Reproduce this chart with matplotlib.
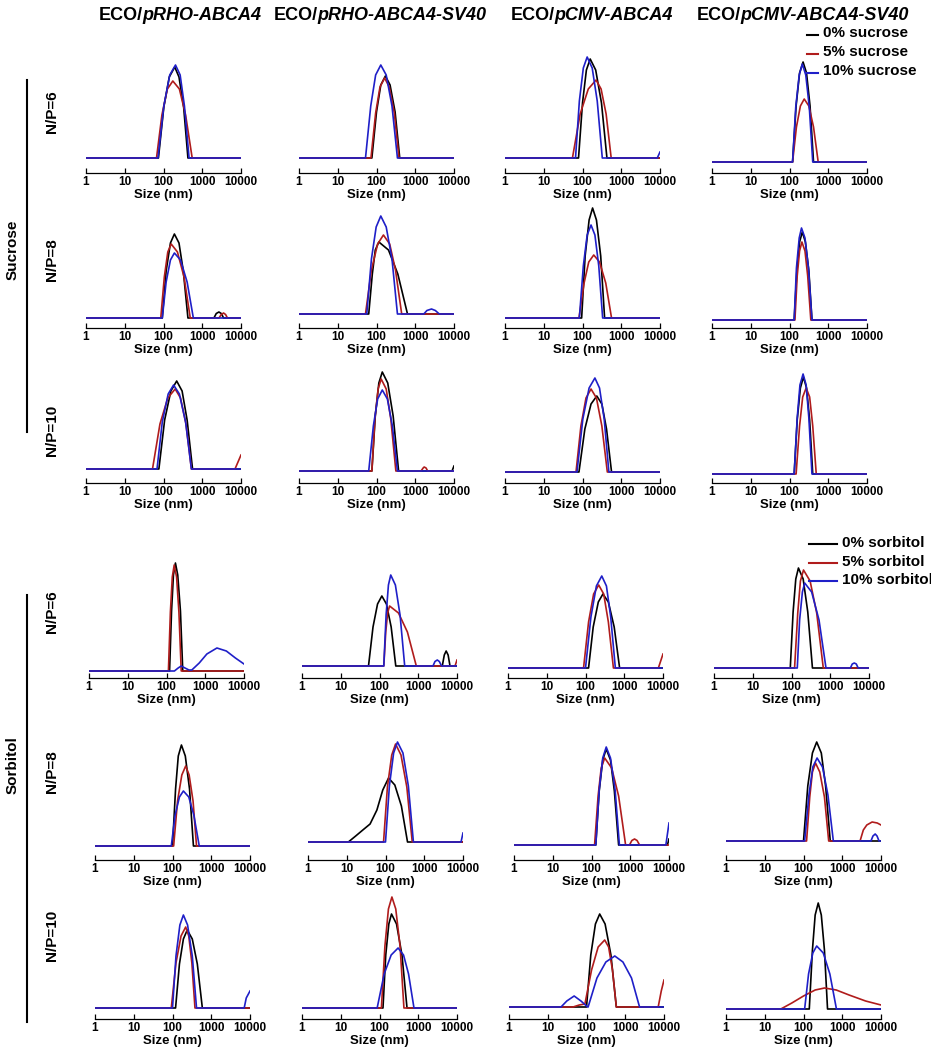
import matplotlib
matplotlib.use("Agg")
import matplotlib.pyplot as plt
from matplotlib.lines import Line2D
from matplotlib.ticker import LogLocator, NullFormatter

plt.rcParams["font.family"] = ["Liberation Sans", "DejaVu Sans"]

# Labels

CONSTRUCTS = ["pRHO-ABCA4", "pRHO-ABCA4-SV40", "pCMV-ABCA4", "pCMV-ABCA4-SV40"]
NP_RATIOS = ["N/P=6", "N/P=8", "N/P=10"]
SUCROSE_LEVELS = ["0% sucrose", "5% sucrose", "10% sucrose"]
SORBITOL_LEVELS = ["0% sorbitol", "5% sorbitol", "10% sorbitol"]
SIZE_TICKS = [1, 10, 100, 1000, 10000]
SIZE_LABELS = ["1", "10", "100", "1000", "10000"]
COLORS = ["#000000", "#b01c1c", "#1f1fc8"]

# Size distributions, (size nm, intensity) per construct column

# Sucrose, N/P=6
suc_np6_0 = [
    [(1, 0), (74, 0), (102, 51), (141, 81), (195, 91), (251, 81), (331, 51), (427, 0), (10000, 0)],
    [(1, 0), (76, 0), (100, 46), (129, 73), (170, 82), (224, 73), (302, 46), (398, 0), (10000, 0)],
    [(1, 0), (79, 0), (100, 55), (126, 88), (158, 99), (219, 88), (309, 55), (427, 0), (10000, 0)],
    [(1, 0), (120, 0), (148, 56), (182, 89), (224, 100), (275, 89), (339, 56), (417, 0), (10000, 0)],
]
suc_np6_5 = [
    [(1, 0), (66, 0), (91, 43), (126, 69), (174, 77), (257, 69), (372, 43), (550, 0), (10000, 0)],
    [(1, 0), (72, 0), (95, 45), (123, 71), (162, 80), (214, 71), (288, 45), (380, 0), (10000, 0)],
    [(1, 0), (55, 0), (87, 44), (141, 69), (224, 78), (302, 69), (407, 44), (550, 0), (10000, 0)],
    [(1, 0), (120, 0), (151, 35), (191, 56), (240, 63), (316, 56), (417, 35), (550, 0), (10000, 0)],
]
suc_np6_10 = [
    [(1, 0), (72, 0), (102, 52), (145, 83), (204, 93), (269, 83), (347, 52), (457, 0), (10000, 0)],
    [(1, 0), (52, 0), (71, 52), (95, 83), (129, 93), (178, 83), (251, 52), (347, 0), (10000, 0)],
    [(1, 0), (66, 0), (83, 57), (105, 90), (132, 101), (178, 90), (240, 57), (324, 0), (8500, 0), (10000, 6)],
    [(1, 0), (120, 0), (145, 55), (178, 87), (214, 98), (263, 87), (324, 55), (398, 0), (10000, 0)],
]

# Sucrose, N/P=8
suc_np8_0 = [
    [(1, 0), (93, 0), (117, 47), (151, 75), (191, 84), (251, 75), (324, 47), (427, 0),
     (2000, 0), (2300, 4.5), (2690, 6), (3100, 4.5), (3550, 0), (10000, 0)],
    [(1, 0), (63, 0), (78, 40), (93, 64), (115, 72), (204, 64), (355, 40), (631, 0), (10000, 0)],
    [(1, 0), (95, 0), (117, 62), (148, 98), (182, 110), (229, 98), (295, 62), (372, 0), (10000, 0)],
    [(1, 0), (132, 0), (155, 49), (182, 78), (214, 88), (257, 78), (316, 49), (380, 0), (10000, 0)],
]
suc_np8_5 = [
    [(1, 0), (85, 0), (105, 41), (129, 66), (158, 74), (229, 66), (339, 41), (490, 0),
     (2700, 0), (3100, 3.5), (3550, 5), (4000, 3.5), (4470, 0), (10000, 0)],
    [(1, 0), (52, 0), (74, 44), (107, 70), (151, 79), (219, 70), (309, 44), (447, 0), (10000, 0)],
    [(1, 0), (81, 0), (110, 35), (145, 56), (195, 63), (275, 56), (398, 35), (562, 0), (10000, 0)],
    [(1, 0), (138, 0), (158, 44), (182, 69), (209, 78), (251, 69), (295, 44), (355, 0), (10000, 0)],
]
suc_np8_10 = [
    [(1, 0), (93, 0), (117, 36), (151, 58), (191, 65), (275, 58), (407, 36), (589, 0), (10000, 0)],
    [(1, 0), (56, 0), (74, 55), (98, 87), (129, 98), (178, 87), (251, 55), (347, 0),
     (1660, 0), (2000, 3.5), (2630, 5), (3300, 3.5), (4170, 0), (10000, 0)],
    [(1, 0), (83, 0), (105, 52), (132, 83), (166, 93), (209, 83), (263, 52), (331, 0), (10000, 0)],
    [(1, 0), (132, 0), (151, 52), (178, 82), (204, 92), (251, 82), (309, 52), (380, 0), (10000, 0)],
]

# Sucrose, N/P=10
suc_np10_0 = [
    [(1, 0), (76, 0), (107, 49), (155, 78), (219, 88), (302, 78), (407, 49), (562, 0), (10000, 0)],
    [(1, 0), (76, 0), (93, 55), (115, 88), (141, 99), (195, 88), (269, 55), (372, 0), (8900, 0), (10000, 5)],
    [(1, 0), (81, 0), (115, 43), (166, 68), (234, 76), (316, 68), (417, 43), (562, 0), (10000, 0)],
    [(1, 0), (132, 0), (158, 54), (191, 86), (229, 97), (275, 86), (331, 54), (398, 0), (10000, 0)],
]
suc_np10_5 = [
    [(1, 0), (52, 0), (81, 45), (129, 71), (200, 80), (275, 71), (380, 45), (525, 0), (7000, 0), (10000, 14)],
    [(1, 0), (76, 0), (91, 52), (110, 82), (132, 92), (178, 82), (234, 52), (316, 0),
     (1410, 0), (1600, 3), (1700, 4), (1900, 3), (2090, 0), (10000, 0)],
    [(1, 0), (68, 0), (91, 46), (123, 74), (166, 83), (229, 74), (316, 46), (437, 0), (10000, 0)],
    [(1, 0), (148, 0), (182, 48), (219, 77), (269, 86), (331, 77), (398, 48), (490, 0), (10000, 0)],
]
suc_np10_10 = [
    [(1, 0), (68, 0), (93, 47), (132, 75), (182, 84), (257, 75), (372, 47), (525, 0), (10000, 0)],
    [(1, 0), (63, 0), (83, 45), (107, 72), (141, 81), (191, 72), (257, 45), (347, 0), (10000, 0)],
    [(1, 0), (72, 0), (102, 53), (148, 84), (209, 94), (275, 84), (363, 53), (479, 0), (10000, 0)],
    [(1, 0), (132, 0), (158, 56), (186, 89), (224, 100), (269, 89), (316, 56), (380, 0), (10000, 0)],
]

# Sorbitol, N/P=6
sor_np6_0 = [
    [(1, 0), (120, 0), (135, 60), (151, 96), (170, 108), (195, 96), (229, 60), (263, 0), (10000, 0)],
    [(1, 0), (52, 0), (68, 39), (89, 62), (115, 70), (151, 62), (200, 39), (263, 0),
     (4170, 0), (4700, 11), (5250, 15), (5900, 11), (6600, 0), (10000, 0)],
    [(1, 0), (120, 0), (158, 41), (214, 66), (282, 74), (389, 66), (550, 41), (759, 0), (10000, 0)],
    [(1, 0), (93, 0), (110, 56), (129, 89), (151, 100), (200, 89), (263, 56), (347, 0), (10000, 0)],
]
sor_np6_5 = [
    [(1, 0), (112, 0), (126, 59), (141, 94), (158, 106), (182, 94), (209, 59), (240, 0), (10000, 0)],
    [(1, 0), (129, 0), (145, 34), (162, 53), (182, 60), (309, 53), (525, 34), (891, 0), (8900, 0), (10000, 6)],
    [(1, 0), (89, 0), (120, 46), (162, 74), (219, 83), (295, 74), (389, 46), (525, 0), (7600, 0), (10000, 14)],
    [(1, 0), (120, 0), (145, 55), (170, 87), (204, 98), (302, 87), (447, 55), (661, 0), (10000, 0)],
]
sor_np6_10 = [
    [(1, 0), (160, 0), (200, 3), (240, 5), (300, 3), (380, 1), (450, 1), (700, 8), (1100, 17),
     (2000, 23), (3500, 20), (6000, 13), (10000, 7)],
    [(1, 0), (129, 0), (148, 51), (170, 81), (195, 91), (257, 81), (339, 51), (447, 0),
     (2400, 0), (2700, 4.5), (3100, 6), (3500, 4.5), (4000, 0), (10000, 0)],
    [(1, 0), (100, 0), (138, 51), (191, 82), (263, 92), (347, 82), (447, 51), (589, 0), (10000, 0)],
    [(1, 0), (141, 0), (162, 48), (191, 76), (219, 85), (331, 76), (513, 48), (776, 0),
     (3310, 0), (3700, 4), (4170, 5), (4700, 4), (5250, 0), (10000, 0)],
]

# Sorbitol, N/P=8
sor_np8_0 = [
    [(1, 0), (100, 0), (120, 57), (141, 90), (170, 101), (214, 90), (275, 57), (347, 0), (10000, 0)],
    [(1, 0), (11, 0), (17, 6), (26, 12), (40, 18), (60, 32), (85, 52), (120, 64), (174, 57),
     (257, 36), (370, 0), (10000, 0)],
    [(1, 0), (129, 0), (158, 54), (195, 85), (240, 96), (309, 85), (389, 54), (501, 0), (9100, 0), (10000, 6)],
    [(1, 0), (100, 0), (129, 55), (170, 88), (219, 99), (288, 88), (372, 55), (490, 0), (10000, 0)],
]
sor_np8_5 = [
    [(1, 0), (107, 0), (135, 45), (174, 71), (219, 80), (269, 71), (339, 45), (417, 0), (10000, 0)],
    [(1, 0), (89, 0), (112, 55), (145, 87), (182, 98), (251, 87), (355, 55), (490, 0), (10000, 0)],
    [(1, 0), (120, 0), (148, 49), (178, 77), (219, 87), (331, 77), (501, 49), (759, 0),
     (955, 0), (1100, 4.5), (1290, 6), (1500, 4.5), (1740, 0), (10000, 0)],
    [(1, 0), (120, 0), (145, 44), (170, 69), (204, 78), (263, 69), (347, 44), (447, 0),
     (2880, 0), (3500, 11), (4300, 16), (5900, 19), (8000, 18), (10000, 16)],
]
sor_np8_10 = [
    [(1, 0), (93, 0), (117, 31), (151, 49), (191, 55), (263, 49), (355, 31), (490, 0), (10000, 0)],
    [(1, 0), (100, 0), (126, 56), (162, 89), (204, 100), (282, 89), (389, 56), (525, 0), (8900, 0), (10000, 9)],
    [(1, 0), (129, 0), (158, 55), (195, 87), (240, 98), (309, 87), (407, 55), (525, 0), (8300, 0), (10000, 22)],
    [(1, 0), (107, 0), (138, 46), (174, 74), (224, 83), (309, 74), (427, 46), (589, 0),
     (5500, 0), (6200, 5), (7080, 7), (7900, 5), (8900, 0), (10000, 0)],
]

# Sorbitol, N/P=10
sor_np10_0 = [
    [(1, 0), (120, 0), (151, 44), (191, 69), (240, 78), (324, 69), (437, 44), (589, 0), (10000, 0)],
    [(1, 0), (123, 0), (145, 53), (174, 84), (204, 94), (275, 84), (380, 53), (513, 0), (10000, 0)],
    [(1, 0), (100, 0), (129, 52), (170, 83), (219, 93), (302, 83), (427, 52), (589, 0), (10000, 0)],
    [(1, 0), (141, 0), (170, 59), (200, 94), (240, 106), (288, 94), (347, 59), (417, 0), (10000, 0)],
]
sor_np10_5 = [
    [(1, 0), (93, 0), (123, 45), (166, 72), (219, 81), (263, 72), (316, 45), (380, 0), (10000, 0)],
    [(1, 0), (112, 0), (138, 62), (170, 99), (209, 111), (263, 99), (339, 62), (427, 0), (10000, 0)],
    [(1, 0), (45, 0), (65, 2), (91, 3), (135, 37), (200, 60), (295, 67), (372, 60), (468, 37), (589, 0),
     (7080, 0), (8500, 16), (10000, 27)],
    [(1, 0), (26, 0), (50, 6), (100, 13), (200, 19), (350, 21), (700, 19), (1500, 14), (4000, 8), (10000, 4)],
]
sor_np10_10 = [
    [(1, 0), (100, 0), (123, 52), (155, 83), (191, 93), (245, 83), (324, 52), (417, 0),
     (7080, 0), (8000, 10), (10000, 17)],
    [(1, 0), (87, 0), (132, 34), (200, 53), (302, 60), (417, 53), (562, 34), (776, 0), (10000, 0)],
    [(1, 0), (22, 0), (31, 6), (48, 11), (72, 6), (107, 0), (110, 0), (186, 29), (316, 45), (537, 51),
     (871, 45), (1450, 29), (2340, 0), (10000, 0)],
    [(1, 0), (107, 0), (135, 35), (174, 56), (219, 63), (324, 56), (479, 35), (708, 0), (10000, 0)],
]

# Layout (pixels from top-left of a 931x1050 canvas)

W, H = 931, 1050
PANEL_W = 155
X_LEFT = [
    [86, 299, 505, 712],
    [86, 299, 505, 712],
    [86, 299, 505, 712],
    [89, 302, 508, 714],
    [95, 308, 514, 726],
    [95, 302, 509, 726],
]
BASELINES = [
    [158, 158, 158, 162],
    [318, 314, 318, 320],
    [469, 471, 472, 474],
    [671, 666, 668, 668],
    [846, 842, 845, 841],
    [1008, 1008, 1007, 1009],
]
AXIS_Y = [173, 328, 483, 678, 860, 1019]
TITLE_X = [180, 380, 592, 803]


def fx(x):
    return x / W


def fy(y):
    return 1 - y / H


rows = [
    (suc_np6_0, suc_np6_5, suc_np6_10),
    (suc_np8_0, suc_np8_5, suc_np8_10),
    (suc_np10_0, suc_np10_5, suc_np10_10),
    (sor_np6_0, sor_np6_5, sor_np6_10),
    (sor_np8_0, sor_np8_5, sor_np8_10),
    (sor_np10_0, sor_np10_5, sor_np10_10),
]

fig = plt.figure(figsize=(W / 100, H / 100), dpi=100)

for r, series in enumerate(rows):
    for c in range(4):
        base = BASELINES[r][c]
        x0 = X_LEFT[r][c]
        ax = fig.add_axes([fx(x0), fy(base + 3), PANEL_W / W, 123 / H])
        ax.patch.set_visible(False)

        for curves, color in zip(series, COLORS):
            points = curves[c]
            ax.plot(
                [p[0] for p in points],
                [p[1] for p in points],
                color=color,
                lw=1.2,
                solid_joinstyle="round",
            )

        ax.set_xscale("log")
        ax.set_xlim(1, 10000)
        ax.set_ylim(-3, 120)
        for side in ("left", "top", "right"):
            ax.spines[side].set_visible(False)
        ax.spines["bottom"].set_position(("outward", (AXIS_Y[r] - base - 3) * 0.72))
        ax.spines["bottom"].set_linewidth(0.9)
        ax.set_yticks([])

        ax.set_xticks(SIZE_TICKS)
        ax.set_xticklabels(SIZE_LABELS, fontweight="bold")
        ax.xaxis.set_minor_locator(LogLocator(base=10, subs=range(2, 10)))
        ax.xaxis.set_minor_formatter(NullFormatter())
        ax.tick_params(axis="x", which="major", direction="in", length=3.5,
                       width=0.9, pad=2, labelsize=8.5)
        ax.tick_params(axis="x", which="minor", direction="in", length=2, width=0.6)
        ax.set_xlabel("Size (nm)", fontsize=9.5, fontweight="bold", labelpad=1)

# Column titles: "ECO/" upright, construct name italic

renderer = fig.canvas.get_renderer()
for center, name in zip(TITLE_X, CONSTRUCTS):
    t1 = fig.text(0, fy(20), "ECO/", fontsize=13, fontweight="bold", va="baseline")
    t2 = fig.text(0, fy(20), name, fontsize=13, fontweight="bold",
                  style="italic", va="baseline")
    w1 = t1.get_window_extent(renderer).width
    w2 = t2.get_window_extent(renderer).width
    left = center - (w1 + w2) / 2
    t1.set_x(fx(left))
    t2.set_x(fx(left + w1))

# Group and row labels

fig.add_artist(Line2D([fx(27), fx(27)], [fy(80), fy(432)], color="black", lw=1.5))
fig.add_artist(Line2D([fx(27), fx(27)], [fy(595), fy(1022)], color="black", lw=1.5))
fig.text(fx(13), fy(250), "Sucrose", rotation=90, ha="center", va="center",
         fontsize=11, fontweight="bold")
fig.text(fx(13), fy(765), "Sorbitol", rotation=90, ha="center", va="center",
         fontsize=11, fontweight="bold")

for label, y in zip(NP_RATIOS, [112, 260, 430]):
    fig.text(fx(52), fy(y), label, rotation=90, ha="center", va="center",
             fontsize=11, fontweight="bold")
for label, y in zip(NP_RATIOS, [612, 772, 935]):
    fig.text(fx(52), fy(y), label, rotation=90, ha="center", va="center",
             fontsize=11, fontweight="bold")

# Legends

for label, color, y in zip(SUCROSE_LEVELS, COLORS, [33, 52, 71]):
    fig.add_artist(Line2D([fx(807), fx(818)], [fy(y + 2), fy(y + 2)], color=color, lw=1.5))
    fig.text(fx(823), fy(y), label, fontsize=11, fontweight="bold", va="center")

for label, color, y in zip(SORBITOL_LEVELS, COLORS, [543, 562, 580]):
    fig.add_artist(Line2D([fx(809), fx(837)], [fy(y + 1), fy(y + 1)], color=color, lw=1.5))
    fig.text(fx(842), fy(y), label, fontsize=11, fontweight="bold", va="center")

fig.savefig("out.png", dpi=100)
